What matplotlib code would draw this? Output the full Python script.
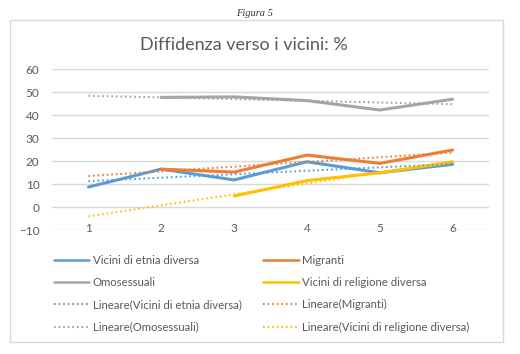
import numpy as np
import matplotlib
matplotlib.use("Agg")
import matplotlib.pyplot as plt
from matplotlib.patches import Rectangle

# data
categories = [1, 2, 3, 4, 5, 6]
etnia = [8.8, 16.6, 11.9, 19.8, 15.0, 18.7]
migranti = [np.nan, 16.6, 15.3, 22.7, 19.1, 24.9]
omosessuali = [np.nan, 47.8, 48.0, 46.4, 42.3, 47.0]
religione = [np.nan, np.nan, 4.9, 11.6, 15.0, 19.7]

series_names = ["Vicini di etnia diversa", "Migranti", "Omosessuali",
                "Vicini di religione diversa"]
colors = ["#5B9BD5", "#ED7D31", "#A5A5A5", "#FFC000"]
yticks = [-10, 0, 10, 20, 30, 40, 50, 60]

plt.rcParams['font.family'] = ['Lato', 'DejaVu Sans']
txt_col = "#595959"

fig = plt.figure(figsize=(5.2, 3.54), dpi=100, facecolor='white')
fig.patches.append(Rectangle((10 / 520, 1 - 342 / 354), 493 / 520, 322 / 354,
                             transform=fig.transFigure, fill=False,
                             edgecolor="#d9d9d9", lw=1.0))

ax = fig.add_axes([52 / 520, 1 - 230.3 / 354, 437 / 520, 161 / 354])
x = np.array(categories, dtype=float)

handles = {}
for name, vals, c in zip(series_names, [etnia, migranti, omosessuali, religione], colors):
    y = np.array(vals, dtype=float)
    ln, = ax.plot(x, y, color=c, lw=2.2, solid_capstyle='round', zorder=3)
    handles[name] = ln

for name, vals, c in zip(series_names, [etnia, migranti, omosessuali, religione], colors):
    y = np.array(vals, dtype=float)
    ok = ~np.isnan(y)
    k, b = np.polyfit(x[ok], y[ok], 1)
    tl, = ax.plot(x, k * x + b, color=c, lw=1.5, linestyle=(0, (0.8, 1.4)),
                  dash_capstyle='butt', zorder=4)
    handles["Lineare(" + name + ")"] = tl

ax.set_xlim(0.5, 6.5)
ax.set_ylim(-10, 60)
ax.set_yticks(yticks)
ax.set_xticks(categories)
ax.grid(axis='y', color="#d9d9d9", lw=1.0)
ax.set_axisbelow(True)
for s in ax.spines.values():
    s.set_visible(False)
ax.tick_params(axis='both', length=0, colors=txt_col, labelsize=8.5)
ax.tick_params(axis='y', pad=9)
ax.tick_params(axis='x', pad=-1)
for lab in ax.get_xticklabels():
    lab.set_va('center')

fig.text(244 / 520, 1 - 45 / 354, "Diffidenza verso i vicini: %", ha='center',
         va='center', fontsize=13, color=txt_col)
fig.text(254 / 520, 1 - 13.5 / 354, "Figura 5", ha='center', va='center',
         fontsize=7.5, style='italic', family='Liberation Serif', color="#333333")

order = ["Vicini di etnia diversa", "Omosessuali",
         "Lineare(Vicini di etnia diversa)", "Lineare(Omosessuali)",
         "Migranti", "Vicini di religione diversa",
         "Lineare(Migranti)", "Lineare(Vicini di religione diversa)"]
leg_handles = [handles[n] for n in order]
leg = fig.legend(leg_handles, order, ncol=2, frameon=False,
                 loc='upper left', bbox_to_anchor=(54 / 520, 1 - 254.5 / 354),
                 fontsize=8.2, handlelength=3.1, handletextpad=0.3,
                 columnspacing=1.9, labelspacing=1.0, borderpad=0,
                 borderaxespad=0)
for t in leg.get_texts():
    t.set_color(txt_col)
for h in leg.legend_handles[:2] + leg.legend_handles[4:6]:
    h.set_linewidth(1.8)

fig.savefig("out.png", dpi=100, facecolor='white')
